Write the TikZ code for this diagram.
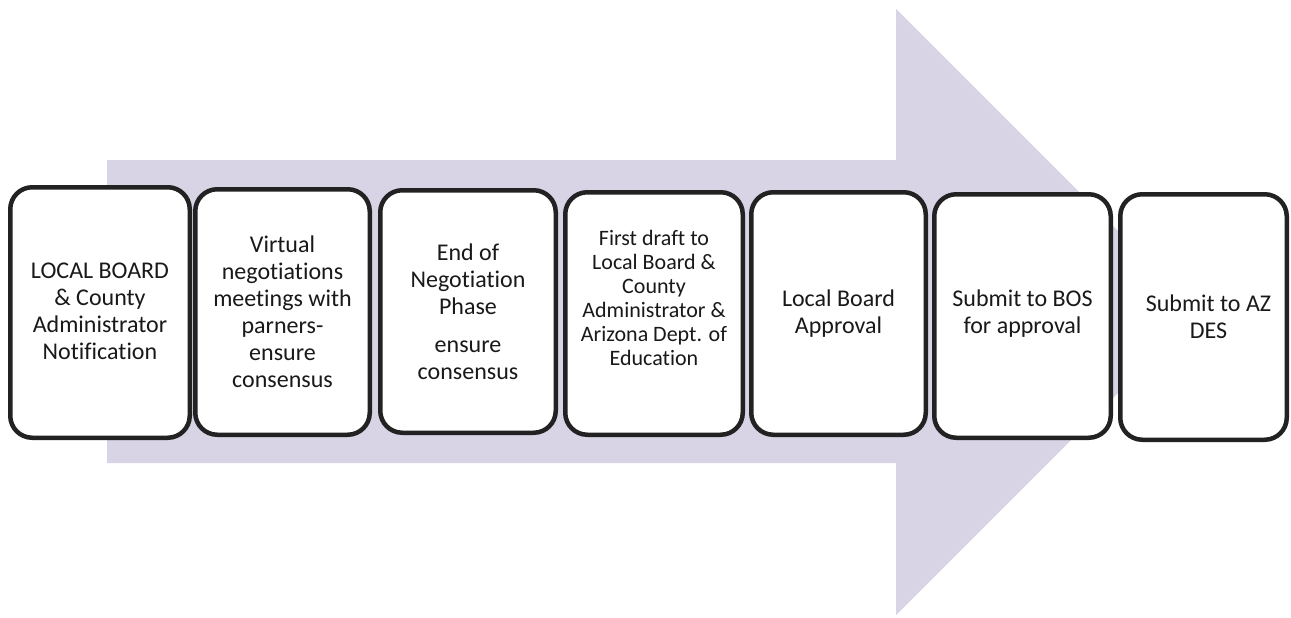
\documentclass[tikz,border=0pt]{standalone}
\usepackage{fontspec}
\setmainfont{Carlito}[Ligatures=NoCommon]
\definecolor{arrowfill}{RGB}{216,211,229}
\definecolor{boxline}{RGB}{34,34,34}
\definecolor{txt}{RGB}{25,25,25}
\begin{document}
\begin{tikzpicture}[x=1pt,y=-1pt,
  stepbox/.style={draw=boxline, line width=4.5pt, fill=white, rounded corners=22pt,
    inner sep=0pt, minimum width=#1-4.5pt},
  steptext/.style={align=center, text=txt, inner sep=0pt, font=\fontsize{24}{27}\selectfont},
  smalltext/.style={align=center, text=txt, inner sep=0pt, font=\fontsize{22}{24}\selectfont}]
\useasboundingbox (0,0) rectangle (1291,618);
% big arrow
\fill[arrowfill] (107,160) -- (896,160) -- (896,9) -- (1199,312) -- (896,615) -- (896,463) -- (107,463) -- cycle;
% boxes
\node[stepbox=184pt, minimum height=250.5pt] (b1) at (100,312.5) {};
\node[stepbox=179pt, minimum height=245.5pt] (b2) at (282.5,312) {};
\node[stepbox=180pt, minimum height=242.5pt] (b3) at (468,311.5) {};
\node[stepbox=182pt, minimum height=242.5pt] (b4) at (654,313.5) {};
\node[stepbox=179pt, minimum height=242.5pt] (b5) at (838.5,313.5) {};
\node[stepbox=181pt, minimum height=243.5pt] (b6) at (1022.5,316) {};
\node[stepbox=171pt, minimum height=245.5pt] (b7) at (1203.5,317) {};
% texts (yshift is upward on the canvas)
\node[steptext] (t1) at ([yshift=1pt]b1.center) {LOCAL BOARD\\\& County\\Administrator\\Notification};
\node[steptext] (t2) at ([yshift=0pt]b2.center) {Virtual\\negotiations\\meetings with\\parners-\\ensure\\consensus};
\node[steptext] (t3) at ([yshift=0pt]b3.center) {End of\\Negotiation\\Phase\\[11pt]ensure\\consensus};
\node[smalltext] (t4) at ([yshift=16pt]b4.center) {First draft to\\Local Board \&\\County\\Administrator \&\\Arizona Dept. of\\Education};
\node[steptext] (t5) at ([yshift=0pt]b5.center) {Local Board\\Approval};
\node[steptext] (t6) at ([yshift=2pt]b6.center) {Submit to BOS\\for approval};
\node[steptext] (t7) at ([xshift=5pt,yshift=0pt]b7.center) {Submit to AZ\\DES};
\end{tikzpicture}
\end{document}
